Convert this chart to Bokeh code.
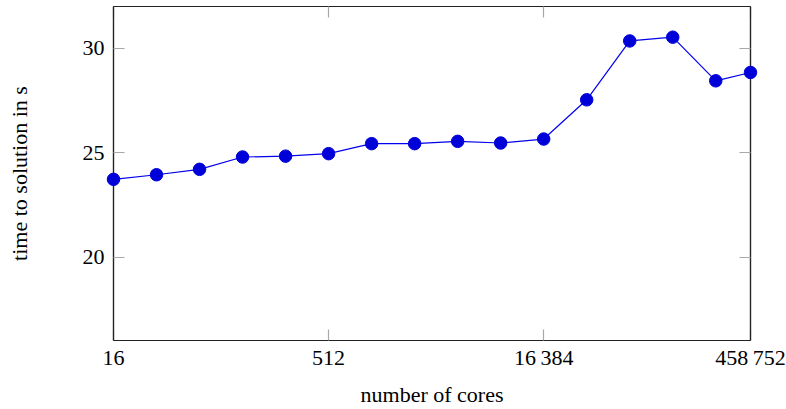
from bokeh.plotting import figure
from bokeh.models import FixedTicker, LinearAxis, LogAxis, Range1d
from bokeh.embed import file_html
from bokeh.resources import INLINE

cores = [16, 32, 64, 128, 256, 512, 1024, 2048, 4096, 8192, 16384,
         32768, 65536, 131072, 262144, 458752]
times = [23.72, 23.94, 24.2, 24.79, 24.83, 24.95, 25.43, 25.43, 25.54,
         25.46, 25.65, 27.53, 30.35, 30.53, 28.44, 28.84]
x_ticks = [16, 512, 16384, 458752]
x_tick_labels = ["16", "512", "16\u2009384", "458\u2009752"]
y_ticks = [20, 25, 30]

FONT = "Liberation Serif"
FS = "22px"

p = figure(width=786, height=409, x_axis_type="log",
           x_range=Range1d(16, 458752), y_range=Range1d(16.0, 32.0),
           output_backend="svg", toolbar_location=None,
           min_border_left=113, min_border_right=36,
           min_border_top=6, min_border_bottom=69)
p.xgrid.visible = False
p.ygrid.visible = False
p.outline_line_color = "#222222"
p.outline_line_width = 1.2

p.line(cores, times, line_color="#0000ee", line_width=1.2, level="overlay")
p.scatter(cores, times, size=12.5, fill_color="#0000d8", line_color="#0000d8",
          level="overlay")

def style(ax, labels=True):
    ax.major_tick_in = 11
    ax.major_tick_out = 0
    ax.minor_tick_in = 0
    ax.minor_tick_out = 0
    ax.major_tick_line_color = "#a8a8a8"
    ax.major_tick_line_width = 1.2
    ax.axis_line_color = "#222222"
    ax.axis_line_width = 1.2
    ax.major_label_text_font = FONT
    ax.major_label_text_font_size = FS
    ax.major_label_text_color = "black"
    ax.axis_label_text_font = FONT
    ax.axis_label_text_font_size = FS
    ax.axis_label_text_font_style = "normal"
    ax.axis_label_text_color = "black"
    if not labels:
        ax.major_label_text_font_size = "1px"
        ax.major_label_text_color = None
        ax.major_label_standoff = 0

xa = p.xaxis[0]
xa.ticker = FixedTicker(ticks=x_ticks, minor_ticks=[])
xa.major_label_overrides = {t: l for t, l in zip(x_ticks, x_tick_labels)}
xa.axis_label = "number of cores"
style(xa)
xa.major_label_standoff = 4
xa.axis_label_standoff = 9

ya = p.yaxis[0]
ya.ticker = FixedTicker(ticks=y_ticks, minor_ticks=[])
ya.axis_label = "time to solution in s"
style(ya)
ya.major_label_standoff = 9
ya.axis_label_standoff = 48

top = LogAxis(ticker=FixedTicker(ticks=x_ticks, minor_ticks=[]))
style(top, labels=False)
p.add_layout(top, "above")
right = LinearAxis(ticker=FixedTicker(ticks=y_ticks, minor_ticks=[]))
style(right, labels=False)
p.add_layout(right, "right")

open("out.html", "w").write(file_html(p, INLINE))
